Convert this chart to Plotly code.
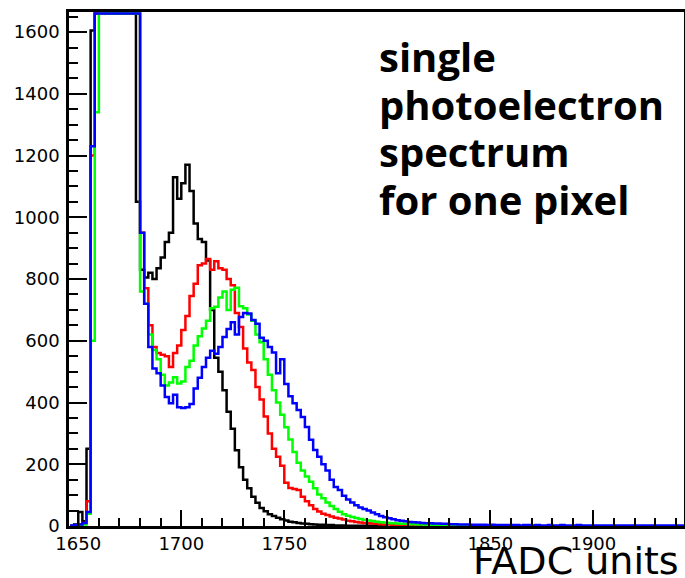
import plotly.graph_objects as go

# Histogram binning (FADC units)
bin_start = 1646
bin_width = 2

black_counts = [
    0, 5, 45, 15, 250, 1605,
    1660, 1660, 1660, 1660, 1660, 1660, 1660, 1660, 1660, 1660,
    1050,
    830, 805, 820, 800, 835, 870, 920, 950, 1130, 1060,
    1110, 1170, 1085, 980, 930, 920, 860, 700, 545, 500,
    440, 370, 315, 245, 190, 150, 122, 95, 75, 58,
    48, 38, 32, 27, 22, 18, 14, 12, 10, 8,
    7, 6, 5, 4, 4, 3, 3, 2, 2, 2,
    1, 1, 1, 1, 1, 1, 1, 1, 1, 0,
]

red_counts = [
    0, 2, 5, 10, 80, 1200,
    1660, 1660, 1660, 1660, 1660, 1660, 1660, 1660, 1660, 1660, 1660,
    950, 770, 650, 580, 560, 555, 550, 515, 560, 585,
    635, 680, 745, 785, 845, 850, 865, 830, 858, 835,
    830, 800, 780, 690, 645, 575, 530, 505, 450, 410,
    355, 300, 250, 224, 195, 140, 123, 120, 117, 95,
    80, 67, 55, 47, 40, 36, 31, 27, 24, 21,
    17, 15, 13, 11, 10, 9, 8, 7, 6, 5,
    5, 4, 4, 3, 3, 3, 2, 2, 2, 2,
    1, 1, 1, 1, 1, 0,
]

green_counts = [
    0, 0, 2, 5, 40, 600, 1340,
    1660, 1660, 1660, 1660, 1660, 1660, 1660, 1660, 1660, 1660,
    760, 720, 620, 570, 540, 490, 455, 465, 482, 462,
    468, 515, 535, 585, 615, 640, 665, 705, 710, 740,
    760, 700, 765, 772, 712, 705, 685, 665, 620, 595,
    540, 490, 440, 400, 360, 320, 280, 240, 205, 180,
    160, 143, 122, 102, 90, 76, 65, 55, 46, 38,
    33, 29, 26, 23, 20, 18, 16, 14, 12, 11,
    10, 9, 8, 7, 7, 6, 6, 5, 5, 4,
    4, 3, 3, 3, 2, 2, 2, 2, 1, 1,
    1, 1, 1, 0,
]

blue_counts = [
    2, 3, 5, 10, 45, 1230,
    1660, 1660, 1660, 1660, 1660, 1660, 1660, 1660, 1660, 1660, 1660,
    950, 720, 580, 510, 495, 455, 418, 398, 425, 385,
    382, 385, 395, 445, 480, 515, 545, 568, 558, 580,
    612, 638, 660, 620, 677, 690, 688, 667, 655, 610,
    600, 580, 562, 495, 540, 460, 420, 398, 376, 353,
    321, 279, 246, 224, 200, 180, 150, 126, 117, 98,
    86, 76, 67, 60, 55, 50, 44, 38, 32, 28,
    25, 22, 19, 17, 15, 13, 12, 11, 10, 9,
    9, 8, 8, 7, 7, 6, 6, 5, 5, 5,
    4, 4, 4, 4, 3, 4, 3, 3, 3, 3,
    3, 3, 2, 3, 3, 2, 3, 2, 2, 3,
    2, 2, 3, 2, 2, 2, 3, 2, 2, 2,
    2, 2, 2, 2, 2, 2, 2, 2, 2, 2,
    2, 2, 2, 2, 2, 2, 2, 2, 2, 2,
    2, 2,
]

series = [
    ("black", black_counts, "#000000"),
    ("red", red_counts, "#ff0000"),
    ("green", green_counts, "#00ff00"),
    ("blue", blue_counts, "#0000ff"),
]

label_lines = ["single", "photoelectron", "spectrum", "for one pixel"]
x_title = "FADC units"

x_range = [1645.5, 1944]
y_range = [0, 1665]

fig = go.Figure()
for name, counts, color in series:
    edges = [bin_start + bin_width * i for i in range(len(counts) + 1)]
    ys = list(counts) + [counts[-1]]
    fig.add_trace(go.Scatter(
        x=edges, y=ys, mode="lines", name=name,
        line=dict(color=color, width=2.5, shape="hv"),
        hoverinfo="skip",
    ))

axis_common = dict(
    showline=True, linecolor="black", linewidth=2.5, mirror=True,
    ticks="inside", tickcolor="black", tickwidth=2,
    showgrid=False, zeroline=False, automargin=False,
    tickfont=dict(family="DejaVu Sans", size=18, color="black"),
)

fig.update_xaxes(
    range=x_range, tick0=1650, dtick=50, ticklen=16,
    minor=dict(dtick=10, ticklen=8, tickwidth=2, ticks="inside", tickcolor="black"),
    **axis_common,
)
fig.update_yaxes(
    range=y_range, tick0=0, dtick=200, ticklen=18, ticklabelstandoff=3,
    minor=dict(dtick=50, ticklen=9, tickwidth=2, ticks="inside", tickcolor="black"),
    **axis_common,
)

plot_top, plot_bottom = 12, 526
plot_h = plot_bottom - plot_top

def py_to_paper(py):
    return (plot_bottom - py) / plot_h

line_centers = [56, 104, 151, 199]
for txt, cy in zip(label_lines, line_centers):
    fig.add_annotation(
        text=txt, xref="paper", yref="paper",
        x=(377 - 69) / 615, y=py_to_paper(cy),
        xanchor="left", yanchor="middle", align="left", showarrow=False,
        font=dict(family="Open Sans", size=40, color="black", weight="bold"),
    )

fig.add_annotation(
    text=x_title,
    xref="paper", yref="paper", x=1, y=py_to_paper(561),
    xanchor="right", yanchor="middle", xshift=-3, showarrow=False,
    font=dict(family="DejaVu Sans", size=38, color="black"),
)

fig.update_layout(
    width=685, height=578,
    margin=dict(l=69, r=1, t=12, b=52),
    plot_bgcolor="white", paper_bgcolor="white",
    showlegend=False,
)

fig.write_html(
    "out.html",
    config={"displayModeBar": False},
    post_script="document.body.style.margin='0';document.body.style.padding='0';"
                "document.body.style.overflow='hidden';",
)
